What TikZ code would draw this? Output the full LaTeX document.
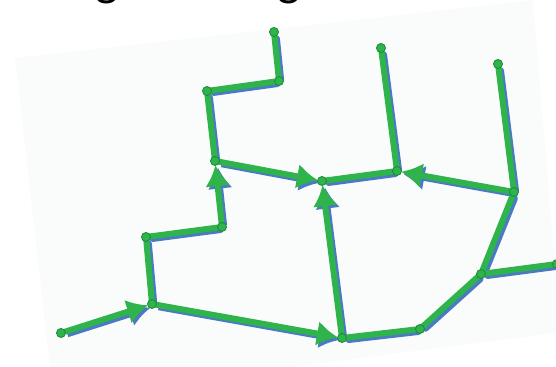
\documentclass[tikz,border=0pt]{standalone}
\usepackage{fontspec}
\newfontfamily\titlefont{Carlito}
\usetikzlibrary{arrows.meta}
\definecolor{tubegreen}{RGB}{46,180,74}
\definecolor{tubeblue}{RGB}{74,122,196}
\definecolor{dotrim}{RGB}{30,140,60}
\definecolor{bgtint}{RGB}{250,251,251}

\begin{document}
\begin{tikzpicture}
[x=0.02cm,y=-0.02cm,
  nodedecorate/.style={shape=circle,inner sep=0pt,minimum size=0.15cm},%
  dotdecorate/.style={shape=circle,inner sep=0pt,minimum size=0.18cm,fill=tubegreen,draw=dotrim,line width=0.5pt},%
  linedecorate/.style={-,line width=0.12cm,line cap=round},%
  arrowdecorate/.style={-{Latex[length=0.42cm,width=0.5cm]},line width=0.12cm},%
  titletext/.style={font=\titlefont\fontsize{28}{30}\selectfont,inner sep=0pt,anchor=base},%
  scale=1]
\useasboundingbox (0,0) rectangle (556,367);
%% faint backdrop
\fill[bgtint] (15,58) -- (533,0) -- (556,276) -- (556,333) -- (290,367) -- (50,367) -- cycle;
%% title, cut off by the page
\node (title1) [titletext] at (107,-4) {g};
\node (title2) [titletext] at (289,-4) {g};
%% nodes or vertices
\foreach \nodename/\x/\y in {
  %% left branch
  1/61/333, 2/152/304, 3/146/237, 4/222/227, 5/215/161,
  6/207/91, 7/279/81, 8/274/32,
  %% middle
  9/322/181, 10/397/171, 11/381/48,
  %% right
  12/514/192, 13/498/64, 14/481/274, 15/557/264,
  %% bottom
  16/420/329, 17/342/338} {
  \node (\nodename) at (\x,\y) [nodedecorate] {};
}
%% edges or lines, shadow first
\begin{scope}[transform canvas={shift={(0.05cm,-0.05cm)}}]
\path
\foreach \startnode/\endnode/\kind in {
  1/2/arrowdecorate, 4/5/arrowdecorate, 5/9/arrowdecorate,
  17/9/arrowdecorate, 12/10/arrowdecorate, 2/17/arrowdecorate,
  2/3/linedecorate, 3/4/linedecorate, 5/6/linedecorate, 6/7/linedecorate,
  7/8/linedecorate, 9/10/linedecorate, 10/11/linedecorate, 12/13/linedecorate,
  12/14/linedecorate, 14/15/linedecorate, 14/16/linedecorate, 16/17/linedecorate} {
  (\startnode) edge[\kind,tubeblue] (\endnode)
};
\end{scope}
\path
\foreach \startnode/\endnode/\kind in {
  1/2/arrowdecorate, 4/5/arrowdecorate, 5/9/arrowdecorate,
  17/9/arrowdecorate, 12/10/arrowdecorate, 2/17/arrowdecorate,
  2/3/linedecorate, 3/4/linedecorate, 5/6/linedecorate, 6/7/linedecorate,
  7/8/linedecorate, 9/10/linedecorate, 10/11/linedecorate, 12/13/linedecorate,
  12/14/linedecorate, 14/15/linedecorate, 14/16/linedecorate, 16/17/linedecorate} {
  (\startnode) edge[\kind,tubegreen] (\endnode)
};
%% joints on top
\foreach \nodename in {1,...,17} {
  \node at (\nodename) [dotdecorate] {};
}
\end{tikzpicture}
\end{document}
